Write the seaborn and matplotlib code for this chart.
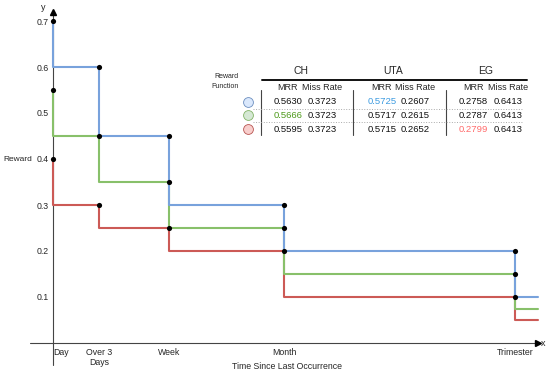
import pandas as pd
import matplotlib
matplotlib.use("Agg")
import matplotlib.pyplot as plt
import seaborn as sns

# step chart data (x = position along the time axis)
tick_names = ["Day", "Over 3\nDays", "Week", "Month", "Trimester"]
tick_pos = [0, 46, 116, 231, 462]
x_end = 485
blue_vals = [0.70, 0.60, 0.45, 0.30, 0.20, 0.10]
green_vals = [0.55, 0.45, 0.35, 0.25, 0.15, 0.075]
red_vals = [0.40, 0.30, 0.25, 0.20, 0.10, 0.05]

# table data
group_names = ["CH", "UTA", "EG"]
ch_mrr = ["0.5630", "0.5666", "0.5595"]
ch_miss = ["0.3723", "0.3723", "0.3723"]
uta_mrr = ["0.5725", "0.5717", "0.5715"]
uta_miss = ["0.2607", "0.2615", "0.2652"]
eg_mrr = ["0.2758", "0.2787", "0.2799"]
eg_miss = ["0.6413", "0.6413", "0.6413"]

line_colors = {"blue": "#78a2dc", "green": "#88c06a", "red": "#cc5a56"}
fill_colors = {"blue": "#dae8fc", "green": "#d5e8d4", "red": "#f8cecc"}
edge_colors = {"blue": "#6c8ebf", "green": "#82b366", "red": "#b85450"}

sns.set_style("white")
plt.rcParams["font.family"] = ["Liberation Sans", "DejaVu Sans"]

# build step vertices: first point doubled at x=0 so the drop at "Day" is drawn
xs = [tick_pos[0]] + tick_pos + [x_end]
rows = []
for name, vals in [("red", red_vals), ("green", green_vals), ("blue", blue_vals)]:
    ys = vals + [vals[-1]]
    for x, y in zip(xs, ys):
        rows.append({"x": x, "reward": y, "fn": name})
df = pd.DataFrame(rows)

dots = []
for name, vals in [("red", red_vals), ("green", green_vals), ("blue", blue_vals)]:
    for x, y in zip(tick_pos, vals[:5]):
        dots.append({"x": x, "reward": y})
dots = pd.DataFrame(dots)

W, H = 550, 376
fig = plt.figure(figsize=(W / 100, H / 100), dpi=100)
ymax = 0.72
ax = fig.add_axes([53 / W, 33 / H, 485 / W, ymax * 460 / H])

sns.lineplot(data=df, x="x", y="reward", hue="fn", hue_order=["red", "green", "blue"],
             palette=line_colors, estimator=None, sort=False, drawstyle="steps-post",
             lw=1.5, legend=False, ax=ax, clip_on=False)
sns.scatterplot(data=dots, x="x", y="reward", color="black", s=14, linewidth=0,
                ax=ax, zorder=5, clip_on=False)

ax.set_xlim(0, x_end)
ax.set_ylim(0, ymax)
sns.despine(ax=ax)
for sp in ["left", "bottom"]:
    ax.spines[sp].set_color("#444444")
    ax.spines[sp].set_linewidth(0.8)
    ax.spines[sp].set_zorder(0)

# axis extensions and arrow heads
ax.plot([0, 0], [0, -0.048], color="#444444", lw=0.8, clip_on=False)
ax.plot([-23, 0], [0, 0], color="#444444", lw=0.8, clip_on=False)
ax.plot([0], [ymax], marker="^", color="black", ms=4, clip_on=False)
ax.plot([x_end], [0], marker=">", color="black", ms=4, clip_on=False)
ax.text(-0.021, 1.012, "y", transform=ax.transAxes, fontsize=6.5, ha="center", va="center")
ax.text(1.011, -0.003, "x", transform=ax.transAxes, fontsize=6.5, ha="center", va="center")

ax.set_yticks([0.1, 0.2, 0.3, 0.4, 0.5, 0.6, 0.7])
ax.set_yticklabels(["0.1", "0.2", "0.3", "0.4", "0.5", "0.6", "0.7"])
ax.tick_params(axis="y", length=0, pad=3, labelsize=6.3)
ax.set_xticks(tick_pos)
ax.set_xticklabels(tick_names)
ax.tick_params(axis="x", direction="inout", length=5, width=0.6, color="#444444",
               pad=1, labelsize=6.3)
ax.get_xticklabels()[0].set_ha("left")
ax.xaxis.get_major_ticks()[0].tick1line.set_visible(False)

ax.set_xlabel("Time Since Last Occurrence", fontsize=6.3)
ax.xaxis.set_label_coords((287 - 53) / 485, -0.058)
ax.set_ylabel("Reward", fontsize=6, rotation=0, ha="center", va="center")
ax.yaxis.set_label_coords(-0.072, 0.553)

# table overlay in pixel coordinates
tab = fig.add_axes([0, 0, 1, 1])
tab.set_xlim(0, W)
tab.set_ylim(H, 0)
tab.axis("off")

tab.text(226, 76, "Reward", fontsize=5, ha="center", va="center")
tab.text(225, 86, "Function", fontsize=5, ha="center", va="center")
for gx, g in zip([301, 393, 486], group_names):
    tab.text(gx, 71, g, fontsize=7.5, ha="center", va="center")
tab.plot([262, 527], [80, 80], color="#111111", lw=1.4)

col_x = [288, 322, 382, 415, 473, 508]
for cx, lab in zip(col_x, ["MRR", "Miss Rate"] * 3):
    tab.text(cx, 87, lab, fontsize=6.5, ha="center", va="center")

row_y = [102, 115, 129]
cols = [ch_mrr, ch_miss, uta_mrr, uta_miss, eg_mrr, eg_miss]
highlight = {(0, 2): "#3d9be0", (1, 0): "#4d9a1a", (2, 4): "#ff6b6b"}
for r, ry in enumerate(row_y):
    for c, (cx, col) in enumerate(zip(col_x, cols)):
        tab.text(cx, ry, col[r], fontsize=6.8, ha="center", va="center",
                 color=highlight.get((r, c), "#111111"))

for vx in [261, 353, 446]:
    tab.plot([vx, vx], [90, 135], color="#444444", lw=0.8)
for hy in [109, 122]:
    tab.plot([253, 522], [hy, hy], color="#aaaaaa", lw=0.7, ls=":")

circles = pd.DataFrame({"x": [248, 248, 248], "y": row_y, "fn": ["blue", "green", "red"]})
for _, row in circles.iterrows():
    tab.scatter(row["x"], row["y"], s=50, color=fill_colors[row["fn"]],
                edgecolor=edge_colors[row["fn"]], linewidth=0.6)

fig.savefig("out.png", dpi=100)
